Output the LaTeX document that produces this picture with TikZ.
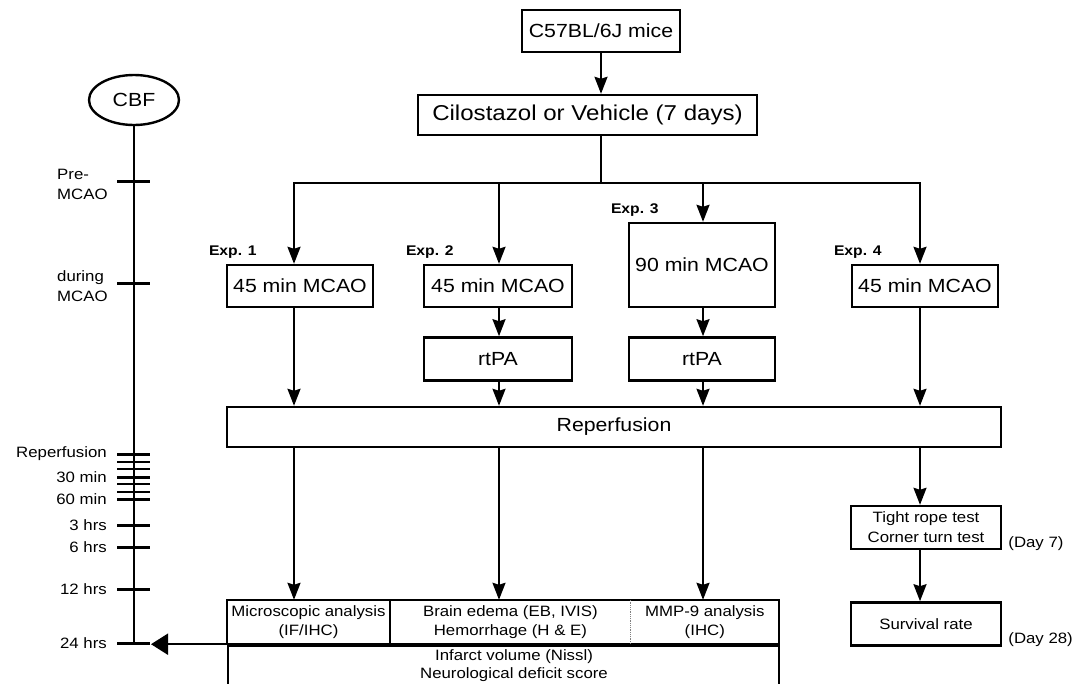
\documentclass[tikz,border=0pt]{standalone}
\usepackage{fontspec}
\setmainfont{Liberation Sans}[FakeStretch=1.12]
\usetikzlibrary{shapes.geometric, arrows.meta, positioning, calc}
\tikzset{
    box/.style={draw=black, line width=2.4pt, fill=white, align=center, inner sep=0pt, font=\fontsize{19}{22}\selectfont},
    smallbox/.style={box, font=\fontsize{15}{20}\selectfont},
    cell/.style={align=center, inner sep=0pt, minimum height=44pt, font=\fontsize{15}{19}\selectfont},
    explabel/.style={anchor=base west, inner sep=0pt, font=\bfseries\fontsize{14}{16}\selectfont},
    daylabel/.style={anchor=base west, inner sep=0pt, font=\fontsize{15}{18}\selectfont},
    timelabel/.style={inner sep=0pt, font=\fontsize{15}{20}\selectfont},
    arrow/.style={-{Stealth[length=17pt, width=13pt, inset=2pt]}, line width=2pt},
    joint/.style={line width=2pt},
    axis/.style={line width=1.3pt},
    timetick/.style={line width=3pt},
    minortimetick/.style={line width=1.5pt},
    bigarrow/.style={-{Triangle[length=17pt, width=21pt]}, line width=2pt}
}

\begin{document}
\begin{tikzpicture}[x=1pt, y=-1pt]
        \useasboundingbox (0,0) rectangle (1073,683);
        \clip (0,0) rectangle (1073,683);

        % flow chart
        \node [box, minimum width=158pt, minimum height=42pt] (mice) at (601,31) {C57BL/6J mice};
        \node [box, minimum width=339pt, minimum height=40pt, font=\fontsize{21.5}{24}\selectfont] (drug) at (587.5,115) {Cilostazol or Vehicle (7 days)};
        \coordinate (hub) at (601,183);
        \coordinate (s1) at (294,183);
        \coordinate (s2) at (499,183);
        \coordinate (s3) at (703,183);
        \coordinate (s4) at (920,183);

        \node [box, minimum width=146pt, minimum height=42pt] (mcao1) at (300,286) {45 min MCAO};
        \node [box, minimum width=148pt, minimum height=42pt] (mcao2) at (498,286) {45 min MCAO};
        \node [box, minimum width=146pt, minimum height=84pt] (mcao3) at (702,265) {90 min MCAO};
        \node [box, minimum width=146pt, minimum height=42pt] (mcao4) at (925,286) {45 min MCAO};
        \node [explabel] (exp1) at ([xshift=-17pt, yshift=8pt]mcao1.north west) {Exp. 1};
        \node [explabel] (exp2) at ([xshift=-17pt, yshift=8pt]mcao2.north west) {Exp. 2};
        \node [explabel] (exp3) at ([xshift=-17pt, yshift=8pt]mcao3.north west) {Exp. 3};
        \node [explabel] (exp4) at ([xshift=-17pt, yshift=8pt]mcao4.north west) {Exp. 4};
        \node [box, minimum width=148pt, minimum height=43pt, below=28pt of mcao2] (rtpa2) {rtPA};
        \node [box, minimum width=146pt, minimum height=43pt, below=28pt of mcao3] (rtpa3) {rtPA};
        \node [box, minimum width=774pt, minimum height=40pt] (reperf) at (614,427) {Reperfusion};
        \node [smallbox, minimum width=150pt, minimum height=43pt] (rope) at (926,527.5) {Tight rope test\\Corner turn test};
        \node [smallbox, minimum width=150pt, minimum height=43pt, below=51pt of rope] (surv) {Survival rate};
        \node [daylabel] (day7) at ([xshift=6pt, yshift=3pt]rope.south east) {(Day 7)};
        \node [daylabel] (day28) at ([xshift=6pt, yshift=3pt]surv.south east) {(Day 28)};

        % analysis table
        \node [cell, minimum width=163pt] (micro) at (308.5,622) {Microscopic analysis\\(IF/IHC)};
        \node [cell, minimum width=240pt, right=0pt of micro] (edema) {Brain edema (EB, IVIS)\\Hemorrhage (H \& E)};
        \node [cell, minimum width=148pt, right=0pt of edema] (mmp) {MMP-9 analysis\\(IHC)};
        \node [draw, line width=2.4pt, inner sep=0pt, minimum width=551pt, minimum height=60pt, anchor=north west] (lower) at (micro.south west) {};
        \node [cell, font=\fontsize{15}{18}\selectfont] (common) at (514,666) {Infarct volume (Nissl)\\Neurological deficit score};
        \draw [line width=2.4pt] (micro.north west) rectangle (mmp.south east);
        \draw [line width=2pt] (micro.north east) -- (micro.south east);
        \draw [line width=0.8pt, densely dotted, gray] (edema.north east) -- (edema.south east);

        \draw [arrow] (mice) -- (mice |- drug.north);
        \draw [joint] (drug.south -| hub) -- (hub);
        \draw [arrow] (hub) -| (mcao1.north -| s1);
        \draw [arrow] (hub) -| (mcao4.north -| s4);
        \draw [arrow] (s2) -- (mcao2.north -| s2);
        \draw [arrow] (s3) -- (mcao3.north -| s3);
        \draw [arrow] (mcao1.south -| s1) -- (reperf.north -| s1);
        \draw [arrow] (mcao2.south -| s2) -- (rtpa2.north -| s2);
        \draw [arrow] (rtpa2.south -| s2) -- (reperf.north -| s2);
        \draw [arrow] (mcao3.south -| s3) -- (rtpa3.north -| s3);
        \draw [arrow] (rtpa3.south -| s3) -- (reperf.north -| s3);
        \draw [arrow] (mcao4.south -| s4) -- (reperf.north -| s4);
        \draw [arrow] (reperf.south -| s1) -- (micro.north -| s1);
        \draw [arrow] (reperf.south -| s2) -- (edema.north -| s2);
        \draw [arrow] (reperf.south -| s3) -- (mmp.north -| s3);
        \draw [arrow] (reperf.south -| s4) -- (rope.north -| s4);
        \draw [arrow] (rope.south -| s4) -- (surv.north -| s4);

        % CBF time line
        \node [draw, ellipse, line width=2.4pt, minimum width=90pt, minimum height=50pt, inner sep=0pt, font=\fontsize{19}{22}\selectfont] (cbf) at (134,100) {CBF};
        \coordinate (t24) at (134,643);
        \draw [axis] (cbf.south) -- (t24);
        \draw [timetick] (117,181) -- (150,181);
        \draw [timetick] (117,283) -- (150,283);
        \node [timelabel, anchor=west, align=left] (pre) at (57,184) {Pre-\\MCAO};
        \node [timelabel, anchor=west, align=left] (during) at (57,286) {during\\MCAO};
        \foreach \y/\txt in {454/Reperfusion, 477/30 min, 499/60 min, 525/3 hrs, 547/6 hrs, 589/12 hrs, 643/24 hrs}{
            \draw [timetick] (117,\y) -- (150,\y);
            \node [timelabel, anchor=east] (lbl\y) at (107,\y) {\txt};
        }
        \foreach \y in {462,469,484,492}
            \draw [minortimetick] (117,\y) -- (150,\y);
        \coordinate (tip) at (151,643);
        \draw [bigarrow] (lower.north west) -- (tip |- lower.north west);
    \end{tikzpicture}
\end{document}
